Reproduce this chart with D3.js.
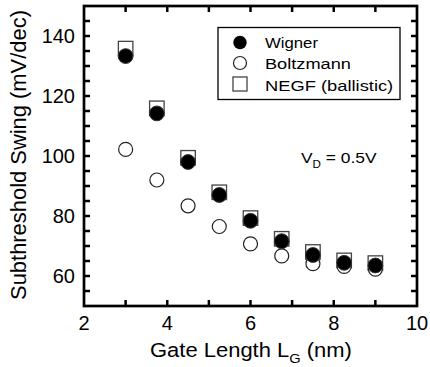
<!DOCTYPE html>
<html>
<head>
<meta charset="utf-8">
<script src="https://cdn.jsdelivr.net/npm/d3@7"></script>
<style>
body { margin: 0; background: #fff; }
text { font-family: Arial, "Liberation Sans", sans-serif; fill: #000; }
</style>
</head>
<body>
<div id="chart"></div>
<script>
var gateLength = [3, 3.75, 4.5, 5.25, 6, 6.75, 7.5, 8.25, 9];
var wigner = [133.3, 114.2, 98, 87, 78.4, 71.6, 67, 64.4, 63.5];
var boltzmann = [102.2, 92, 83.4, 76.5, 70.7, 66.7, 64.1, 63.2, 62.3];
var negf = [135.8, 115.9, 99.4, 87.9, 79.3, 72.4, 68, 65.2, 64.3];
var legendNames = ["Wigner", "Boltzmann", "NEGF (ballistic)"];
var xTickLabels = [2, 4, 6, 8, 10];
var yTickLabels = [60, 80, 100, 120, 140];

// stretch a text horizontally so it covers the wanted width
function fit(sel, target, x, y, rot) {
    var w = sel.node().getBBox().width;
    var s = target / w;
    sel.attr("transform", "translate(" + x + "," + y + ")" + (rot ? " rotate(-90)" : "") + " scale(" + s + ",1)");
}

function drawChart(element) {
    var width = 430, height = 367;
    var left = 84, right = 417, top = 6, bottom = 306;

    var svg = d3.select(element)
        .append("svg")
        .attr("width", width)
        .attr("height", height);

    var x = d3.scaleLinear().domain([2, 10]).range([left, right]);
    var y = d3.scaleLinear().domain([50, 150]).range([bottom, top]);

    var xMinor = d3.range(3, 10, 1);
    var yMinor = d3.range(55, 150, 5);

    // ticks, all pointing inward
    var tl = 6;
    var ticks = svg.append("g").attr("stroke", "#000").attr("stroke-width", 2.5);
    xMinor.forEach(function (v) {
        ticks.append("line").attr("x1", x(v)).attr("x2", x(v)).attr("y1", bottom).attr("y2", bottom - tl);
        ticks.append("line").attr("x1", x(v)).attr("x2", x(v)).attr("y1", top).attr("y2", top + tl);
    });
    yMinor.forEach(function (v) {
        ticks.append("line").attr("x1", left).attr("x2", left + tl).attr("y1", y(v)).attr("y2", y(v));
        ticks.append("line").attr("x1", right).attr("x2", right - tl).attr("y1", y(v)).attr("y2", y(v));
    });

    svg.append("rect")
        .attr("x", left).attr("y", top)
        .attr("width", right - left).attr("height", bottom - top)
        .attr("fill", "none").attr("stroke", "#000").attr("stroke-width", 2.7);

    svg.selectAll(".xl")
        .data(xTickLabels)
        .enter().append("text")
        .attr("x", function (d) { return x(d); })
        .attr("y", 330)
        .attr("text-anchor", "middle")
        .attr("font-size", 20)
        .text(function (d) { return d; });

    svg.selectAll(".yl")
        .data(yTickLabels)
        .enter().append("text")
        .attr("x", 75)
        .attr("y", function (d) { return y(d) + 7; })
        .attr("text-anchor", "end")
        .attr("font-size", 20)
        .text(function (d) { return d; });

    // axis titles
    var xt = svg.append("text")
        .attr("font-size", 19.5);
    xt.append("tspan").text("Gate Length L");
    xt.append("tspan").attr("font-size", 13).attr("dy", 6).text("G");
    xt.append("tspan").attr("dy", -6).text(" (nm)");
    fit(xt, 202, 150, 357, false);

    var yt = svg.append("text")
        .attr("text-anchor", "middle")
        .attr("font-size", 22)
        .text("Subthreshold Swing (mV/dec)");
    fit(yt, 290, 25.5, 155, true);

    // data
    var sq = 14.5;
    svg.selectAll(".negf")
        .data(negf)
        .enter().append("rect")
        .attr("x", function (d, i) { return x(gateLength[i]) - sq / 2; })
        .attr("y", function (d) { return y(d) - sq / 2; })
        .attr("width", sq).attr("height", sq)
        .attr("fill", "#fff").attr("stroke", "#444").attr("stroke-width", 1.3);

    svg.selectAll(".boltz")
        .data(boltzmann)
        .enter().append("circle")
        .attr("cx", function (d, i) { return x(gateLength[i]); })
        .attr("cy", function (d) { return y(d); })
        .attr("r", 7)
        .attr("fill", "#fff").attr("stroke", "#222").attr("stroke-width", 1.2);

    svg.selectAll(".wig")
        .data(wigner)
        .enter().append("circle")
        .attr("cx", function (d, i) { return x(gateLength[i]); })
        .attr("cy", function (d) { return y(d); })
        .attr("r", 7.4)
        .attr("fill", "#000").attr("stroke", "#333").attr("stroke-width", 1);

    // legend
    svg.append("rect")
        .attr("x", 218).attr("y", 27.5)
        .attr("width", 182).attr("height", 72)
        .attr("fill", "#fff").attr("stroke", "#000").attr("stroke-width", 1.3);

    var rows = [42.5, 63, 84];
    var lx = 240;
    svg.append("circle").attr("cx", lx).attr("cy", rows[0]).attr("r", 6.7).attr("fill", "#000");
    svg.append("circle").attr("cx", lx).attr("cy", rows[1]).attr("r", 6.5).attr("fill", "#fff")
        .attr("stroke", "#222").attr("stroke-width", 1.2);
    svg.append("rect").attr("x", lx - 7).attr("y", rows[2] - 7).attr("width", 14).attr("height", 14)
        .attr("fill", "#fff").attr("stroke", "#444").attr("stroke-width", 1.3);

    var baselines = [48, 69.3, 90.7];
    var widths = [53, 86, 128.3];
    legendNames.forEach(function (name, i) {
        var t = svg.append("text").attr("font-size", 15).text(name);
        fit(t, widths[i], 265, baselines[i], false);
    });

    var vd = svg.append("text").attr("font-size", 15);
    vd.append("tspan").text("V");
    vd.append("tspan").attr("font-size", 10).attr("dy", 5).text("D");
    vd.append("tspan").attr("dy", -5).text(" = 0.5V");
    fit(vd, 75.7, 301, 162.7, false);
}

drawChart("#chart");
</script>
</body>
</html>
